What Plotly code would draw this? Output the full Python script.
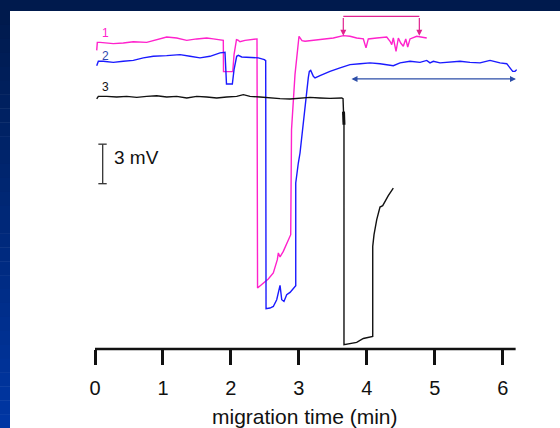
import plotly.graph_objects as go

# ---------------- data (x: minutes, y: mV relative to axis baseline) ----------------
t1_x = [0.025, 0.034, 0.074, 0.269, 0.416, 0.564, 0.761, 0.908, 1.055, 1.202, 1.350, 1.497, 1.644, 1.741,
        1.888, 1.891, 2.027, 2.046, 2.082, 2.105, 2.134, 2.208, 2.384, 2.392, 2.477, 2.550, 2.624, 2.683,
        2.698, 2.723, 2.771, 2.830, 2.880, 2.892, 2.943, 3.002, 3.046, 3.091, 3.213, 3.360, 3.507, 3.654,
        3.753, 3.851, 3.949, 3.988, 4.022, 4.146, 4.293, 4.342, 4.367, 4.390, 4.430, 4.464, 4.499, 4.537,
        4.573, 4.602, 4.636, 4.734, 4.808, 4.882]
t1_y = [22.67, 23.28, 23.28, 23.18, 23.23, 23.33, 23.28, 23.48, 23.69, 23.61, 23.43, 23.54, 23.61, 23.54,
        23.43, 21.06, 21.06, 22.35, 23.48, 23.45, 23.33, 23.43, 23.54, 4.63, 5.01, 5.32, 5.77, 6.78,
        7.29, 6.99, 7.41, 8.05, 8.68, 16.65, 20.83, 23.74, 23.41, 23.36, 23.43, 23.54, 23.61, 23.79,
        23.74, 23.61, 23.54, 22.86, 23.54, 23.61, 23.69, 23.36, 23.11, 23.61, 22.60, 23.61, 23.23, 22.98,
        23.54, 22.93, 23.54, 23.74, 23.69, 23.61]

t2_x = [0.025, 0.049, 0.122, 0.269, 0.416, 0.564, 0.711, 0.858, 1.055, 1.251, 1.398, 1.545, 1.692, 1.840,
        1.913, 1.935, 2.021, 2.046, 2.085, 2.109, 2.159, 2.256, 2.403, 2.492, 2.512, 2.517, 2.575, 2.624,
        2.674, 2.723, 2.748, 2.781, 2.821, 2.870, 2.918, 2.954, 2.954, 2.968, 2.992, 3.017, 3.042, 3.066,
        3.091, 3.139, 3.154, 3.174, 3.213, 3.238, 3.311, 3.458, 3.606, 3.753, 3.900, 4.047, 4.194, 4.293,
        4.390, 4.489, 4.636, 4.783, 4.882, 4.930, 4.979, 5.077, 5.224, 5.372, 5.519, 5.666, 5.813, 5.862,
        5.960, 6.059, 6.107, 6.147, 6.181, 6.206]
t2_y = [21.51, 21.84, 21.84, 21.76, 21.84, 21.91, 22.10, 22.22, 22.27, 22.35, 22.22, 22.10, 22.22, 22.48,
        22.52, 20.12, 20.12, 21.21, 22.22, 22.29, 22.17, 22.14, 22.10, 21.97, 21.89, 3.06, 3.11, 3.23,
        3.74, 4.83, 3.74, 3.61, 4.12, 4.30, 4.63, 4.81, 12.60, 13.36, 14.12, 14.88, 16.14, 17.41,
        18.55, 20.60, 21.08, 21.15, 20.70, 20.58, 20.75, 21.08, 21.34, 21.59, 21.66, 21.72, 21.66, 21.59,
        21.51, 21.72, 21.84, 21.76, 21.91, 21.72, 21.84, 21.72, 21.76, 21.84, 21.76, 21.72, 21.91, 21.84,
        21.72, 21.66, 21.34, 21.08, 21.08, 21.21]

t3_x = [0.025, 0.049, 0.172, 0.319, 0.467, 0.614, 0.761, 0.908, 1.055, 1.202, 1.350, 1.497, 1.644, 1.791,
        1.938, 2.085, 2.183, 2.281, 2.428, 2.575, 2.723, 2.870, 3.017, 3.164, 3.311, 3.458, 3.631, 3.650,
        3.657, 3.664, 3.664, 3.728, 3.851, 3.949, 4.022, 4.087, 4.087, 4.106, 4.146, 4.194, 4.234, 4.268,
        4.316, 4.390]
t3_y = [18.98, 19.18, 19.18, 19.13, 19.18, 19.10, 19.18, 19.23, 19.13, 19.18, 19.06, 19.18, 19.13, 19.06,
        19.13, 19.18, 19.31, 19.18, 19.13, 19.06, 19.01, 18.98, 19.06, 19.10, 19.06, 19.03, 19.06, 19.01,
        18.02, 17.03, 0.33, 0.40, 0.50, 0.80, 0.91, 0.96, 7.79, 8.68, 9.82, 10.78, 10.88, 11.21,
        11.64, 12.22]
t3_thick_x = [3.657, 3.664]
t3_thick_y = [18.02, 17.03]

trace_labels = ["1", "2", "3"]
label_x = [0.147, 0.147, 0.147]
label_y = [23.99, 22.27, 19.89]

tick_vals = [0, 1, 2, 3, 4, 5, 6]
tick_text = ["0", "1", "2", "3", "4", "5", "6"]
axis_end = 6.19
x_title = "migration time (min)"

scale_x = [0.113, 0.113, None, 0.049, 0.172, None, 0.049, 0.172]
scale_y = [12.55, 15.55, None, 15.55, 15.55, None, 12.55, 12.55]
scale_label = "3 mV"

bracket_x = [3.654, 4.773]
bracket_top = 25.25
bracket_tip = 23.79
span_x = [3.753, 6.195]
span_y = 20.50

# ---------------- styles ----------------
C1 = "#ff22cc"
C2 = "#1a1aff"
C3 = "#111111"
FONT = "Liberation Sans, Arial, sans-serif"

X_RANGE = [-1.251, 6.843]
Y_RANGE = [0, 25.66]

fig = go.Figure()
fig.add_trace(go.Scatter(x=t1_x, y=t1_y, mode="lines", line=dict(color=C1, width=1.4)))
fig.add_trace(go.Scatter(x=t2_x, y=t2_y, mode="lines", line=dict(color=C2, width=1.4)))
fig.add_trace(go.Scatter(x=t3_x, y=t3_y, mode="lines", line=dict(color=C3, width=1.4)))
fig.add_trace(go.Scatter(x=t3_thick_x, y=t3_thick_y, mode="lines", line=dict(color=C3, width=3)))
fig.add_trace(go.Scatter(x=scale_x, y=scale_y, mode="lines", line=dict(color="#333333", width=1.3)))
fig.add_trace(go.Scatter(x=bracket_x, y=[bracket_top, bracket_top], mode="lines",
                         line=dict(color="#e0238f", width=1.2)))

annotations = []
for xv, tv, yv, col in zip(label_x, trace_labels, label_y, [C1, "#3048b0", C3]):
    annotations.append(dict(x=xv, y=yv, text=tv, showarrow=False, font=dict(family=FONT, size=12, color=col),
                            xanchor="center", yanchor="middle"))
annotations.append(dict(x=0.246, y=14.53, text=scale_label, showarrow=False, xanchor="left", yanchor="middle",
                        font=dict(family=FONT, size=19, color="#111111")))
for bx in bracket_x:
    annotations.append(dict(x=bx, y=bracket_tip, ax=bx, ay=bracket_top, axref="x", ayref="y", xref="x", yref="y",
                            text="", showarrow=True, arrowhead=2, arrowsize=1, arrowwidth=1.2,
                            arrowcolor="#e0238f"))
annotations.append(dict(x=span_x[1], y=span_y, ax=span_x[0], ay=span_y, axref="x", ayref="y", xref="x", yref="y",
                        text="", showarrow=True, arrowhead=2, arrowside="end+start", arrowsize=1,
                        arrowwidth=1.2, arrowcolor="#2d4ea8"))
annotations.append(dict(x=axis_end / 2, y=-0.2, xref="x", yref="paper", text=x_title, showarrow=False,
                        xanchor="center", yanchor="middle", font=dict(family=FONT, size=21, color="#111111")))

# frame: dark top band + gradient left band
shapes = []
W, H = 560, 428
ml, mt, mb = 10, 11, 79
pw, ph = W - ml, H - mt - mb
def px2paper_x(p):
    return (p - ml) / pw
def py2paper_y(p):
    return (H - mb - p) / ph
# x axis line spanning only 0..axis_end
shapes.append(dict(type="line", xref="x", yref="paper", x0=0, x1=axis_end, y0=0, y1=0,
                   line=dict(color="#111111", width=2.6), layer="above"))
shapes.append(dict(type="rect", xref="paper", yref="paper", x0=px2paper_x(0), x1=px2paper_x(W),
                   y0=py2paper_y(11), y1=py2paper_y(0), fillcolor="#001a4d", line=dict(width=0), layer="above"))
n = 30
c0 = (0x00, 0x1a, 0x4d)
c1 = (0x00, 0x36, 0xa3)
for i in range(n):
    f = i / (n - 1)
    col = "rgb(%d,%d,%d)" % tuple(round(a + (b - a) * f) for a, b in zip(c0, c1))
    top = 11 + (H - 11) * i / n
    bot = 11 + (H - 11) * (i + 1) / n + 0.5
    shapes.append(dict(type="rect", xref="paper", yref="paper", x0=px2paper_x(0), x1=px2paper_x(10),
                       y0=py2paper_y(bot), y1=py2paper_y(top), fillcolor=col, line=dict(width=0), layer="above"))

fig.update_layout(
    width=W, height=H,
    margin=dict(l=ml, r=0, t=mt, b=mb, pad=0),
    paper_bgcolor="white", plot_bgcolor="white",
    showlegend=False,
    annotations=annotations,
    shapes=shapes,
    xaxis=dict(range=X_RANGE, showgrid=False, zeroline=False, showline=False,
               tickmode="array", tickvals=tick_vals, ticktext=tick_text,
               ticks="outside", ticklen=15, tickwidth=2.6, tickcolor="#111111",
               ticklabelstandoff=6,
               tickfont=dict(family=FONT, size=20, color="#111111")),
    yaxis=dict(range=Y_RANGE, showgrid=False, zeroline=False, showline=False, showticklabels=False,
               ticks=""),
    hovermode=False,
)

fig.write_html("out.html", config={"displayModeBar": False},
               post_script="document.body.style.margin='0';document.body.style.overflow='hidden';")
